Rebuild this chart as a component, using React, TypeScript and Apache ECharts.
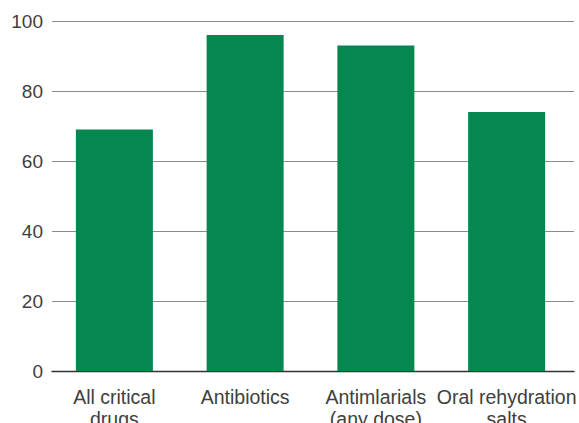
import React, { useEffect, useRef } from "react";
import * as echarts from "echarts";

const categories = ["All critical\ndrugs", "Antibiotics", "Antimlarials\n(any dose)", "Oral rehydration\nsalts"];
const values = [69, 96, 93, 74];
const yTicks = { min: 0, max: 100, interval: 20 };

export default function App() {
  const ref = useRef<HTMLDivElement>(null);
  useEffect(() => {
    if (!ref.current) return;
    const chart = echarts.init(ref.current, null, { renderer: "svg" });
    const font = "Liberation Sans";
    chart.setOption({
      animation: false,
      backgroundColor: "#ffffff",
      grid: [
        { left: 52, right: 5, top: 21, bottom: 52, containLabel: false, outerBoundsMode: "none" },
        { left: 49, right: 7, top: 21, bottom: 52, containLabel: false, outerBoundsMode: "none" },
      ],
      xAxis: [
        {
          type: "value",
          gridIndex: 0,
          min: 0,
          max: 1,
          axisLine: { show: true, onZero: false, lineStyle: { color: "#333333", width: 1.3 } },
          axisTick: { show: false },
          axisLabel: { show: false },
          splitLine: { show: false },
        },
        {
          type: "category",
          gridIndex: 1,
          data: categories,
          axisLine: { show: false },
          axisTick: { show: false },
          axisLabel: {
            color: "#404040",
            fontFamily: font,
            fontSize: 19.5,
            lineHeight: 22,
            margin: 15,
            interval: 0,
          },
        },
      ],
      yAxis: [
        {
          type: "value",
          gridIndex: 0,
          min: yTicks.min,
          max: yTicks.max,
          interval: yTicks.interval,
          axisLine: { show: false },
          axisTick: { show: false },
          splitLine: { show: true, lineStyle: { color: "#8c8c8c", width: 1 } },
          axisLabel: {
            color: "#404040",
            fontFamily: font,
            fontSize: 19,
            margin: 9,
          },
        },
        {
          type: "value",
          gridIndex: 1,
          min: yTicks.min,
          max: yTicks.max,
          interval: yTicks.interval,
          show: false,
        },
      ],
      series: [
        {
          type: "bar",
          xAxisIndex: 1,
          yAxisIndex: 1,
          data: values,
          barWidth: 77,
          itemStyle: { color: "#05874f" },
          z: 3,
        },
      ],
    });
    return () => chart.dispose();
  }, []);
  return (
    <div
      ref={ref}
      style={{ position: "absolute", left: 0, top: 0, width: 579, height: 423 }}
    />
  );
}
